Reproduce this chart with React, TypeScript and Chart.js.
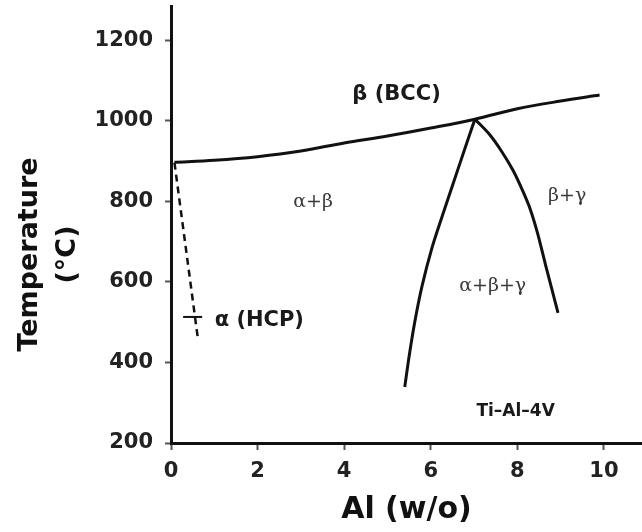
import React, { useEffect, useRef } from "react";
import { Chart, registerables } from "chart.js";

Chart.register(...registerables);

// Axis ticks
const xTicks = [0, 2, 4, 6, 8, 10];
const yTicks = [200, 400, 600, 800, 1000, 1200];

// Beta transus line
const transusX = [0.08, 1, 2, 3, 4, 5, 6, 7.02, 8, 9, 9.9];
const transusY = [897, 902, 911, 925, 945, 962, 982, 1004, 1030, 1049, 1064];

// Left boundary of alpha+beta+gamma
const leftX = [5.4, 5.5, 5.63, 5.8, 6.03, 6.28, 6.52, 6.77, 7.02];
const leftY = [339, 415, 500, 590, 685, 768, 845, 925, 1004];

// Right boundary (beta+gamma)
const rightX = [7.02, 7.35, 7.65, 7.9, 8.12, 8.3, 8.47, 8.65, 8.94];
const rightY = [1004, 967, 922, 877, 827, 780, 720, 643, 523];

// Dashed alpha solvus
const dashX = [0.08, 0.62];
const dashY = [896, 460];

// Small cross mark on the dashed line
const markX = [0.28, 0.72];
const markY = [513, 513];

// Region labels
const labelTexts = ["β (BCC)", "α+β", "β+γ", "α+β+γ", "α (HCP)", "Ti–Al–4V"];
const labelX = [5.21, 3.28, 9.15, 7.43, 2.04, 7.96];
const labelY = [1065, 797, 813, 590, 504, 278];
const labelKind = ["sans", "serif", "serif", "serif", "sans", "small"];

const yTitleLines = ["Temperature", "(°C)"];
const xTitle = "Al (w/o)";

const toPts = (xs: number[], ys: number[]) => xs.map((x, i) => ({ x, y: ys[i] }));

const annotationPlugin = {
  id: "annotations",
  afterDatasetsDraw(chart: any) {
    const { ctx, scales, chartArea } = chart;
    const xs = scales.x;
    const ys = scales.y;
    ctx.save();
    ctx.textAlign = "center";
    ctx.textBaseline = "middle";
    labelTexts.forEach((t, i) => {
      const kind = labelKind[i];
      if (kind === "serif") {
        ctx.font = "19px 'DejaVu Serif'";
        ctx.fillStyle = "#3a3a3a";
      } else if (kind === "small") {
        ctx.font = "bold 17px 'DejaVu Sans'";
        ctx.fillStyle = "#1a1a1a";
      } else {
        ctx.font = "bold 21px 'DejaVu Sans'";
        ctx.fillStyle = "#1a1a1a";
      }
      ctx.fillText(t, xs.getPixelForValue(labelX[i]), ys.getPixelForValue(labelY[i]));
    });
    // Y axis title (two lines, rotated)
    ctx.font = "bold 27px 'DejaVu Sans'";
    ctx.fillStyle = "#111";
    const cy = (chartArea.top + chartArea.bottom) / 2 + 30;
    const lineXs = [30, 68];
    yTitleLines.forEach((t, i) => {
      ctx.save();
      ctx.translate(lineXs[i], cy);
      ctx.rotate(-Math.PI / 2);
      ctx.fillText(t, 0, 0);
      ctx.restore();
    });
    ctx.restore();
  },
};

export default function App() {
  const ref = useRef<HTMLCanvasElement | null>(null);

  useEffect(() => {
    if (!ref.current) return;
    const lineStyle = {
      borderColor: "#111",
      borderWidth: 3,
      pointRadius: 0,
      fill: false,
      tension: 0.3,
    };
    const chart = new Chart(ref.current, {
      type: "line",
      data: {
        datasets: [
          {
            ...lineStyle,
            label: "transus",
            cubicInterpolationMode: "monotone",
            data: toPts(transusX, transusY),
          },
          { ...lineStyle, label: "left", data: toPts(leftX, leftY) },
          { ...lineStyle, label: "right", data: toPts(rightX, rightY) },
          {
            ...lineStyle,
            label: "dash",
            tension: 0,
            borderWidth: 2.5,
            borderDash: [7, 5],
            data: toPts(dashX, dashY),
          },
          {
            ...lineStyle,
            label: "mark",
            tension: 0,
            borderWidth: 2,
            data: toPts(markX, markY),
          },
        ],
      },
      options: {
        animation: false,
        responsive: false,
        layout: { padding: { top: 6, right: 0, left: 0, bottom: 0 } },
        plugins: { legend: { display: false }, tooltip: { enabled: false } },
        scales: {
          x: {
            type: "linear",
            min: 0,
            max: 10.88,
            afterBuildTicks: (axis: any) => {
              axis.ticks = xTicks.map((v) => ({ value: v }));
            },
            afterFit: (scale: any) => {
              scale.height = 89;
              scale.paddingLeft = 0;
              scale.paddingRight = 0;
            },
            grid: {
              display: true,
              drawOnChartArea: false,
              drawTicks: true,
              tickLength: 7,
              tickWidth: 2,
              tickColor: "#555",
            },
            border: { display: true, color: "#111", width: 3 },
            ticks: {
              padding: 9,
              color: "#222",
              font: { family: "'DejaVu Sans'", size: 21, weight: "bold" },
              callback: (v: any) => String(v),
            },
            title: {
              display: true,
              text: xTitle,
              color: "#111",
              padding: { top: 0, bottom: 4 },
              font: { family: "'DejaVu Sans'", size: 30, weight: "bold" },
            },
          },
          y: {
            type: "linear",
            min: 200,
            max: 1285,
            afterBuildTicks: (axis: any) => {
              axis.ticks = yTicks.map((v) => ({ value: v }));
            },
            afterFit: (scale: any) => {
              scale.width = 171;
              scale.paddingTop = 0;
              scale.paddingBottom = 0;
            },
            grid: {
              display: true,
              drawOnChartArea: false,
              drawTicks: true,
              tickLength: 6,
              tickWidth: 2,
              tickColor: "#555",
            },
            border: { display: true, color: "#111", width: 3 },
            ticks: {
              padding: 12,
              color: "#222",
              font: { family: "'DejaVu Sans'", size: 21, weight: "bold" },
              callback: (v: any) => String(v),
            },
            title: { display: false },
          },
        },
      },
      plugins: [annotationPlugin],
    } as any);
    return () => chart.destroy();
  }, []);

  return (
    <div style={{ position: "absolute", left: 0, top: 0, width: 642, height: 532, background: "#fff" }}>
      <canvas ref={ref} width={642} height={532} />
    </div>
  );
}
